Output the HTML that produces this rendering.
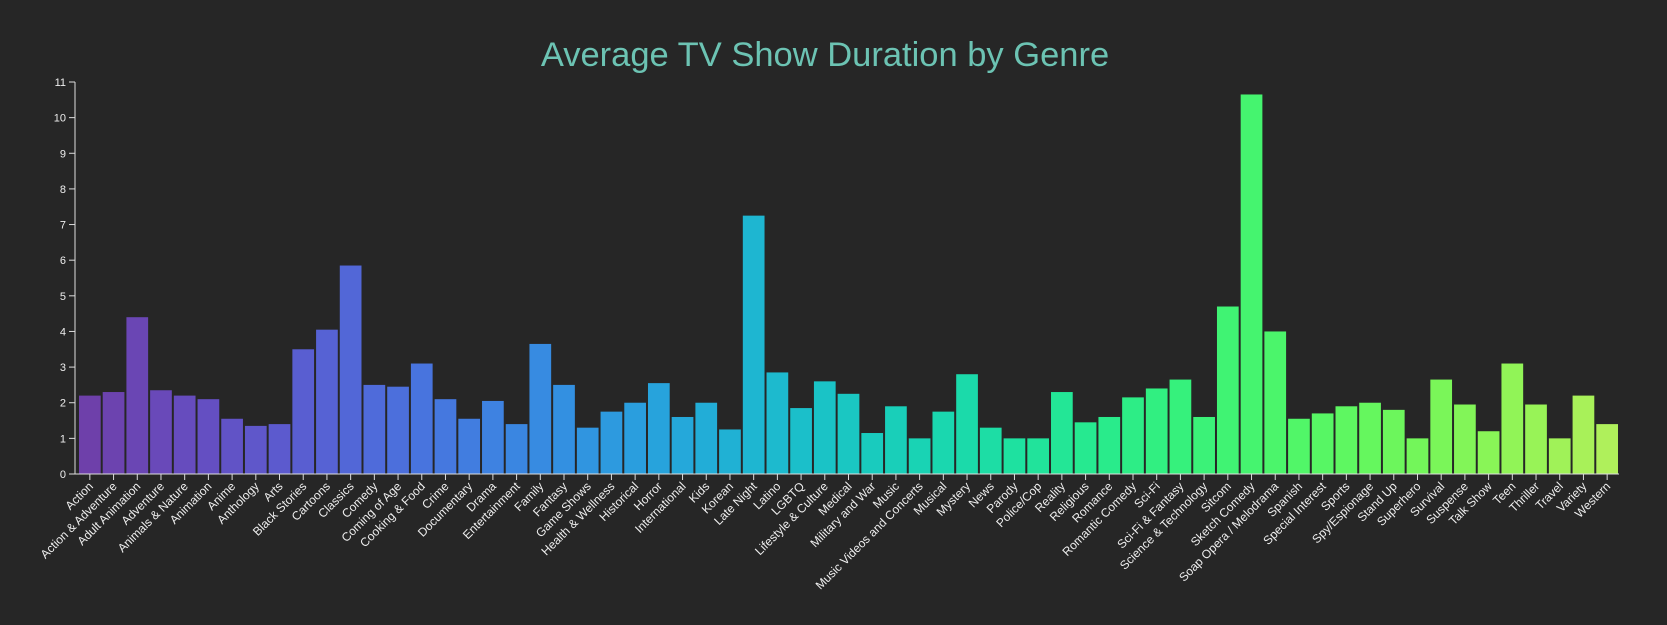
<!DOCTYPE html>
<html><head><meta charset="utf-8"><style>
html,body{margin:0;padding:0;background:#262626;}
svg{display:block;font-family:"Liberation Sans",sans-serif;}
</style></head><body>
<svg id="chart" width="1667" height="625" viewBox="0 0 1667 625">
<rect width="1667" height="625" fill="#262626"/>
<text x="825" y="66" text-anchor="middle" font-size="34.5" fill="#6cc3b3">Average TV Show Duration by Genre</text>
<g id="yaxis"></g>
<g id="bars"></g>
<g id="xaxis"></g>
</svg>
<script>
const categories=["Action","Action & Adventure","Adult Animation","Adventure","Animals & Nature","Animation","Anime","Anthology","Arts","Black Stories","Cartoons","Classics","Comedy","Coming of Age","Cooking & Food","Crime","Documentary","Drama","Entertainment","Family","Fantasy","Game Shows","Health & Wellness","Historical","Horror","International","Kids","Korean","Late Night","Latino","LGBTQ","Lifestyle & Culture","Medical","Military and War","Music","Music Videos and Concerts","Musical","Mystery","News","Parody","Police/Cop","Reality","Religious","Romance","Romantic Comedy","Sci-Fi","Sci-Fi & Fantasy","Science & Technology","Sitcom","Sketch Comedy","Soap Opera / Melodrama","Spanish","Special Interest","Sports","Spy/Espionage","Stand Up","Superhero","Survival","Suspense","Talk Show","Teen","Thriller","Travel","Variety","Western"];
const values=[2.2,2.3,4.4,2.35,2.2,2.1,1.55,1.35,1.4,3.5,4.05,5.85,2.5,2.45,3.1,2.1,1.55,2.05,1.4,3.65,2.5,1.3,1.75,2.0,2.55,1.6,2.0,1.25,7.25,2.85,1.85,2.6,2.25,1.15,1.9,1.0,1.75,2.8,1.3,1.0,1.0,2.3,1.45,1.6,2.15,2.4,2.65,1.6,4.7,10.65,4.0,1.55,1.7,1.9,2.0,1.8,1.0,2.65,1.95,1.2,3.1,1.95,1.0,2.2,1.4];
const yTicks=[0,1,2,3,4,5,6,7,8,9,10,11];
const NS="http://www.w3.org/2000/svg";
const x0=78,x1=1619,y0=474,y1=82,yMax=11;
const step=(x1-x0)/categories.length;
function xs(i){return x0+i*step;}
function ys(v){return y0-(v/yMax)*(y0-y1);}
function cool(t){
  const h=260-180*t, s=0.75+0.75*t, l=0.35+0.45*t;
  const hr=(h+120)*Math.PI/180, a=s*l*(1-l), c=Math.cos(hr), sn=Math.sin(hr);
  const r=l+a*(-0.14861*c+1.78277*sn), g=l+a*(-0.29227*c-0.90649*sn), b=l+a*(1.97294*c);
  const f=v=>Math.round(255*Math.max(0,Math.min(1,v)));
  return `rgb(${f(r)},${f(g)},${f(b)})`;
}
function mk(tag,attrs,parent){const e=document.createElementNS(NS,tag);for(const k in attrs)e.setAttribute(k,attrs[k]);parent.appendChild(e);return e;}
const ya=document.getElementById('yaxis'),ba=document.getElementById('bars'),xa=document.getElementById('xaxis');
const yl=mk('line',{x1:x0-3,x2:x0-3,y1:y1,y2:y0,stroke:'#ddd','stroke-width':1},ya);


yTicks.forEach(t=>{
  const tk=mk('line',{x1:x0-9,x2:x0-3,y1:ys(t),y2:ys(t),stroke:'#ddd'},ya);
  
  
  const tx=mk('text',{x:x0-12,y:ys(t)+4,'text-anchor':'end','font-size':11,fill:'#eee'},ya);
  tx.textContent=t;
  
  
});
const xl=mk('line',{x1:x0-3,x2:x1,y1:y0,y2:y0,stroke:'#ddd'},xa);


categories.forEach((c,i)=>{
  const r=mk('rect',{x:xs(i)+1,y:ys(values[i]),width:step-2,height:y0-ys(values[i]),fill:cool(i/(categories.length-1))},ba);
  
  
  const cx=xs(i)+step/2;
  const tk=mk('line',{x1:cx,x2:cx,y1:y0,y2:y0+6,stroke:'#ddd'},xa);
  
  
  const tx=mk('text',{x:cx+4,y:y0+13,'text-anchor':'end','font-size':12,fill:'#eee',transform:`rotate(-45 ${cx+4} ${y0+13})`},xa);
  tx.textContent=c;
  
  
});
</script>
</body></html>
